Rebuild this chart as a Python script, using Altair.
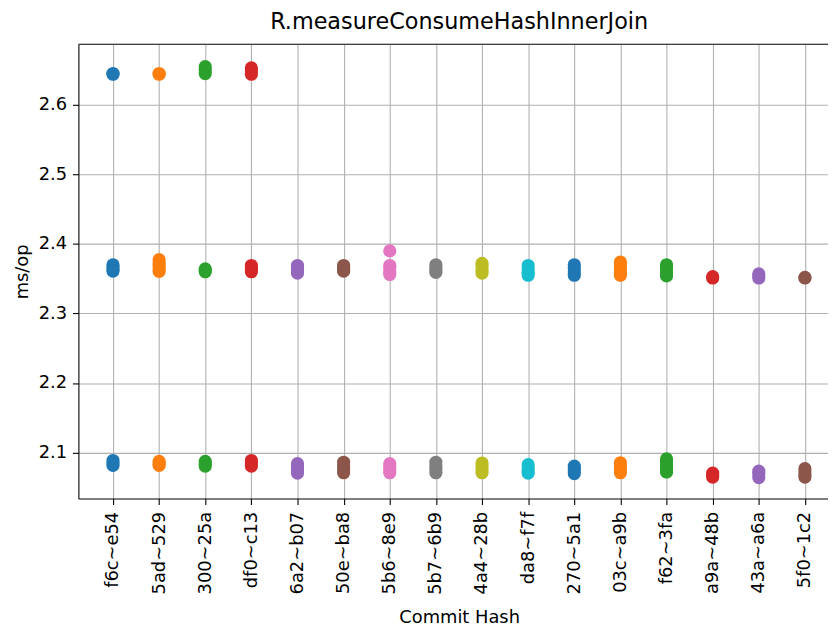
import json
import altair as alt
import pandas as pd

commits = ["f6c~e54", "5ad~529", "300~25a", "df0~c13", "6a2~b07", "50e~ba8",
           "5b6~8e9", "5b7~6b9", "4a4~28b", "da8~f7f", "270~5a1", "03c~a9b",
           "f62~3fa", "a9a~48b", "43a~a6a", "5f0~1c2"]

palette = ["#1f77b4", "#ff7f0e", "#2ca02c", "#d62728", "#9467bd", "#8c564b",
           "#e377c2", "#7f7f7f", "#bcbd22", "#17becf", "#1f77b4", "#ff7f0e",
           "#2ca02c", "#d62728", "#9467bd", "#8c564b"]

high_vals = [
    [2.645, 2.644],
    [2.645, 2.644],
    [2.655, 2.650, 2.645],
    [2.653, 2.649, 2.644],
    [], [], [], [], [], [], [], [], [], [], [], [],
]

mid_vals = [
    [2.370, 2.367, 2.364, 2.361],
    [2.3775, 2.372, 2.368, 2.364, 2.3604],
    [2.364, 2.362, 2.360],
    [2.369, 2.366, 2.363, 2.360],
    [2.369, 2.365, 2.361, 2.358],
    [2.369, 2.365, 2.362, 2.361],
    [2.390, 2.369, 2.365, 2.360, 2.356],
    [2.370, 2.366, 2.362, 2.359],
    [2.372, 2.368, 2.363, 2.358],
    [2.369, 2.364, 2.359, 2.355],
    [2.370, 2.365, 2.360, 2.355],
    [2.374, 2.369, 2.364, 2.359, 2.355],
    [2.370, 2.365, 2.359, 2.354],
    [2.353, 2.351],
    [2.357, 2.354, 2.351],
    [2.352, 2.351],
]

low_vals = [
    [2.0886, 2.085, 2.0815],
    [2.0872, 2.084, 2.0815],
    [2.0872, 2.084, 2.0805],
    [2.0886, 2.085, 2.0805],
    [2.084, 2.079, 2.075, 2.0705],
    [2.086, 2.081, 2.076, 2.071],
    [2.084, 2.079, 2.075, 2.071],
    [2.086, 2.081, 2.076, 2.071],
    [2.085, 2.080, 2.075, 2.071],
    [2.0825, 2.078, 2.074, 2.0705],
    [2.0805, 2.077, 2.073, 2.0697],
    [2.0853, 2.080, 2.075, 2.071],
    [2.091, 2.086, 2.081, 2.076, 2.072],
    [2.0705, 2.0675, 2.0648],
    [2.0734, 2.069, 2.064],
    [2.0768, 2.072, 2.068, 2.0648],
]

y_ticks = [2.1, 2.2, 2.3, 2.4, 2.5, 2.6]

rows = []
for i, c in enumerate(commits):
    for group in (high_vals, mid_vals, low_vals):
        for v in group[i]:
            rows.append({"idx": i, "commit": c, "ms": v})
df = pd.DataFrame(rows)

W, H = 756, 458
FONT = "DejaVu Sans"
label_expr = json.dumps(commits) + "[datum.value]"

points = alt.Chart(df).mark_circle(size=177, opacity=1).encode(
    x=alt.X("idx:Q",
            scale=alt.Scale(domain=[-0.75, 15.5], nice=False, zero=False),
            axis=alt.Axis(values=list(range(len(commits))), labelExpr=label_expr,
                          labelAngle=270, labelFlush=False, labelOverlap=False,
                          labelPadding=7, title="Commit Hash",
                          titleX=384, titleY=125, titleAlign="center",
                          titleBaseline="alphabetic")),
    y=alt.Y("ms:Q",
            scale=alt.Scale(domain=[2.034, 2.687], nice=False, zero=False),
            axis=alt.Axis(values=y_ticks, format=".1f", labelPadding=6,
                          title="ms/op", titleAngle=270, titleX=-51,
                          titleY=H / 2, titleAlign="center",
                          titleBaseline="alphabetic")),
    color=alt.Color("commit:N", scale=alt.Scale(domain=commits, range=palette),
                    legend=None),
)

top_spine = alt.Chart(pd.DataFrame({"a": [0]})).mark_rule(
    color="black", strokeWidth=1.1
).encode(x=alt.value(0), x2=alt.value(W), y=alt.value(0))

chart = alt.layer(points, top_spine).properties(
    width=W, height=H,
    padding={"left": 71, "top": 34, "right": 0, "bottom": 126},
    autosize=alt.AutoSizeParams(type="none"),
    title=alt.TitleParams("R.measureConsumeHashInnerJoin", font=FONT,
                          fontSize=22.5, fontWeight="normal", color="black",
                          anchor="middle", dx=6, dy=20, offset=12,
                          baseline="alphabetic"),
).configure_view(stroke=None).configure_axis(
    labelFont=FONT, labelFontSize=18, labelColor="black",
    titleFont=FONT, titleFontSize=18, titleColor="black", titleFontWeight="normal",
    gridColor="#b0b0b0", gridWidth=1.1, gridOpacity=1,
    domainColor="black", domainWidth=1.1,
    tickColor="black", tickWidth=1.1, tickSize=6,
)

chart.save("out.html", embed_options={"renderer": "svg", "actions": False})
